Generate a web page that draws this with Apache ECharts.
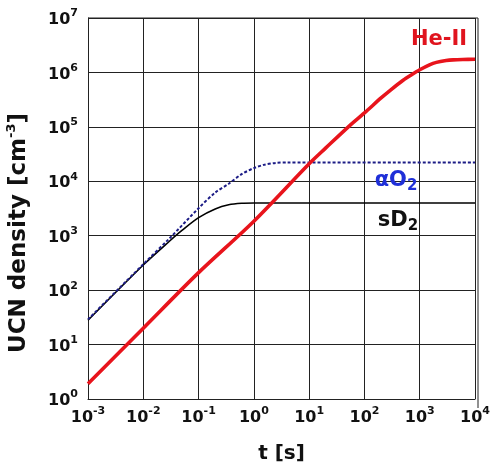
<!DOCTYPE html>
<html>
<head>
<meta charset="utf-8">
<script src="https://cdn.jsdelivr.net/npm/echarts@6/dist/echarts.min.js"></script>
<style>html,body{margin:0;padding:0;background:#fff}#c{width:493px;height:469px}</style>
</head>
<body>
<div id="c"></div>
<script>
// He-II
const heT = [0.001, 0.01, 0.1, 1, 10, 20, 50, 100, 200, 300, 500, 700, 1000, 1500, 2000, 3000, 4000, 6000, 10000];
const heN = [1.9, 20, 210, 1850, 21000, 41000, 98000, 180000, 340000, 480000, 720000, 900000, 1120000, 1380000, 1530000, 1650000, 1700000, 1730000, 1750000];
// alpha-O2
const o2T = [0.001, 0.01, 0.03, 0.1, 0.2, 0.35, 0.6, 1, 1.5, 2.5, 4, 10000];
const o2N = [29, 300, 900, 3200, 6200, 9000, 13500, 17500, 20000, 21800, 22200, 22200];
// sD2
const d2T = [0.001, 0.01, 0.03, 0.05, 0.1, 0.2, 0.35, 0.6, 1, 10000];
const d2N = [28, 290, 800, 1250, 2150, 3100, 3700, 3950, 4000, 4000];

const xTicks = [-3, -2, -1, 0, 1, 2, 3, 4];
const yTicks = [0, 1, 2, 3, 4, 5, 6, 7];

const zip = (a, b) => a.map((v, i) => [v, b[i]]);
const FONT = 'DejaVu Sans';
const supRich = {
  b: {fontFamily: FONT, fontWeight: 'bold', fontSize: 16, lineHeight: 20, verticalAlign: 'bottom', color: '#111'},
  s: {fontFamily: FONT, fontWeight: 'bold', fontSize: 11, lineHeight: 12, verticalAlign: 'top', color: '#111'}
};
const expLabel = v => '{b|10}{s|' + Math.round(Math.log10(v)) + '}';

const chart = echarts.init(document.getElementById('c'), null, {renderer: 'canvas'});
chart.setOption({
  animation: false,
  backgroundColor: '#fff',
  grid: {left: 88, right: 15, top: 18, bottom: 61, containLabel: false, show: false},
  xAxis: {
    type: 'log', logBase: 10, min: Math.pow(10, xTicks[0]), max: Math.pow(10, xTicks[xTicks.length - 1]),
    name: 't [s]', nameLocation: 'middle', nameGap: 45,
    nameTextStyle: {fontFamily: FONT, fontWeight: 'bold', fontSize: 20, color: '#111'},
    axisLine: {show: true, lineStyle: {color: '#222', width: 1}},
    axisTick: {show: false},
    minorTick: {show: false},
    splitLine: {show: true, lineStyle: {color: '#222', width: 1}},
    axisLabel: {formatter: expLabel, rich: supRich, margin: 7, showMinLabel: true, showMaxLabel: true}
  },
  yAxis: {
    type: 'log', logBase: 10, min: Math.pow(10, yTicks[0]), max: Math.pow(10, yTicks[yTicks.length - 1]),
    axisLine: {show: true, lineStyle: {color: '#222', width: 1}},
    axisTick: {show: false},
    splitLine: {show: true, lineStyle: {color: '#222', width: 1}},
    axisLabel: {formatter: expLabel, rich: supRich, margin: 10, showMinLabel: true, showMaxLabel: true}
  },
  series: [
    {type: 'line', name: 'sD2', data: zip(d2T, d2N), showSymbol: false, smooth: 0.3,
     lineStyle: {color: '#000', width: 1.6}, z: 3},
    {type: 'line', name: 'aO2', data: zip(o2T, o2N), showSymbol: false, smooth: 0.3,
     lineStyle: {color: '#1c1c86', width: 2, type: [3, 2]}, z: 4},
    {type: 'line', name: 'He-II', data: zip(heT, heN), showSymbol: false, smooth: 0.3,
     lineStyle: {color: '#e8141c', width: 3.6}, z: 5}
  ],
  graphic: [
    {type: 'line', shape: {x1: 88, y1: 18, x2: 478, y2: 18}, style: {stroke: '#222', lineWidth: 1}},
    {type: 'line', shape: {x1: 478, y1: 18, x2: 478, y2: 408}, style: {stroke: '#222', lineWidth: 1}},
    {type: 'text', x: 18, y: 233, rotation: Math.PI / 2,
     style: {text: '{a|UCN density [cm}{s|-3}{a|]}', align: 'center', verticalAlign: 'middle',
       rich: {a: {fontFamily: FONT, fontWeight: 'bold', fontSize: 23, lineHeight: 26, verticalAlign: 'bottom', fill: '#111'},
              s: {fontFamily: FONT, fontWeight: 'bold', fontSize: 13, lineHeight: 14, verticalAlign: 'top', fill: '#111'}}}},
    {type: 'text', x: 439, y: 40, z: 10,
     style: {text: 'He-II', align: 'center', verticalAlign: 'middle', fontFamily: FONT, fontWeight: 'bold', fontSize: 21, fill: '#e0141e'}},
    {type: 'text', x: 396, y: 182, z: 10,
     style: {text: '{a|αO}{s|2}', align: 'center', verticalAlign: 'middle',
       rich: {a: {fontFamily: FONT, fontWeight: 'bold', fontSize: 21, lineHeight: 24, verticalAlign: 'top', fill: '#1f2fd8'},
              s: {fontFamily: FONT, fontWeight: 'bold', fontSize: 15, lineHeight: 16, verticalAlign: 'bottom', fill: '#1f2fd8'}}}},
    {type: 'text', x: 398, y: 222, z: 10,
     style: {text: '{a|sD}{s|2}', align: 'center', verticalAlign: 'middle',
       rich: {a: {fontFamily: FONT, fontWeight: 'bold', fontSize: 21, lineHeight: 24, verticalAlign: 'top', fill: '#111'},
              s: {fontFamily: FONT, fontWeight: 'bold', fontSize: 15, lineHeight: 16, verticalAlign: 'bottom', fill: '#111'}}}}
  ]
});
</script>
</body>
</html>
